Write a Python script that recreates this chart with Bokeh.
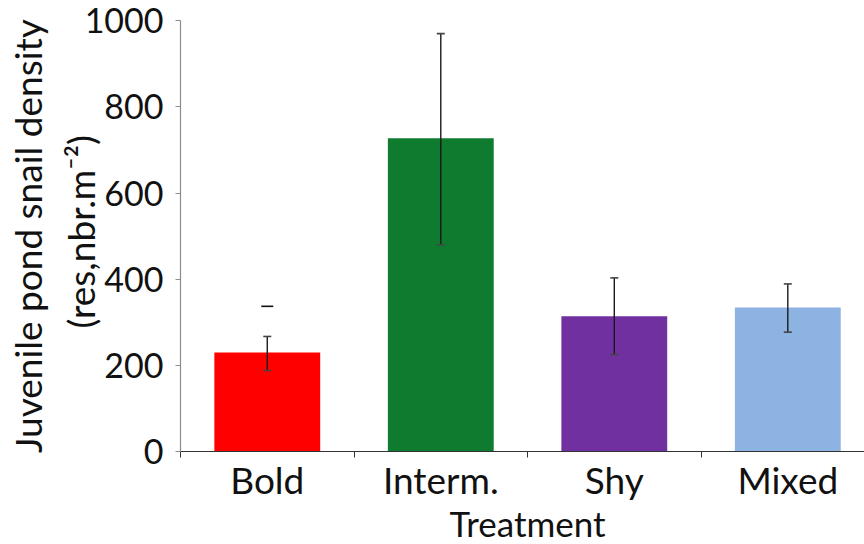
import math
from bokeh.plotting import figure
from bokeh.models import Range1d, FixedTicker, Whisker, TeeHead, ColumnDataSource, Label
from bokeh.embed import file_html
from bokeh.resources import INLINE

# Mean juvenile snail density per treatment, with error bar limits
treatments = ["Bold", "Interm.", "Shy", "Mixed"]
density = [230, 727, 314, 334]
err_lower = [188, 480, 225, 277]
err_upper = [267, 970, 403, 389]
bar_colors = ["#ff0000", "#0f7b2f", "#7030a0", "#8db3e2"]
stray_cap = [337]  # stray cap mark above the Bold bar
y_ticks = [0, 200, 400, 600, 800, 1000]

FONT = "Lato"
TEXT = "#111111"

centers = [i + 0.5 for i in range(len(treatments))]
src = ColumnDataSource(dict(x=centers, top=density, lower=err_lower,
                            upper=err_upper, color=bar_colors))

# The frame fills the canvas; both axes sit at the zero lines so that the
# tick labels and axis titles have room inside the plotting area.
p = figure(width=864, height=544, x_range=Range1d(-1.0375, 3.942), y_range=Range1d(-216, 1047),
           output_backend="svg", toolbar_location=None,
           min_border_left=0, min_border_right=0, min_border_top=0, min_border_bottom=0)
p.outline_line_color = None
p.xgrid.grid_line_color = None
p.ygrid.grid_line_color = None
p.background_fill_color = "white"
p.border_fill_color = "white"

p.vbar(x="x", top="top", width=0.61, fill_color="color", line_color=None, source=src)

p.add_layout(Whisker(source=src, base="x", upper="upper", lower="lower", level="overlay",
                     line_color="#1a1a1a", line_width=1.4,
                     upper_head=TeeHead(size=8, line_color="#444444", line_width=1.6),
                     lower_head=TeeHead(size=8, line_color="#444444", line_width=1.6)))

p.scatter(x=[centers[0]] * len(stray_cap), y=stray_cap, marker="dash", size=12,
          line_color="#111111", line_width=1.6)

# x axis: category names between boundary ticks
xa = p.xaxis[0]
xa.fixed_location = 0
xa.bounds = (0, len(treatments))
xa.ticker = FixedTicker(ticks=centers, minor_ticks=list(range(len(treatments) + 1)))
xa.major_label_overrides = {c: t for c, t in zip(centers, treatments)}
xa.major_tick_line_color = None
xa.major_tick_out = 0
xa.minor_tick_in = 0
xa.minor_tick_out = 6
xa.minor_tick_line_color = "#333333"
xa.axis_line_color = "#333333"
xa.axis_line_width = 1.2
xa.major_label_text_font = FONT
xa.major_label_text_font_size = "37px"
xa.major_label_text_color = TEXT
xa.major_label_standoff = 0

ya = p.yaxis[0]
ya.fixed_location = 0
ya.bounds = (0, 1000)
ya.ticker = FixedTicker(ticks=y_ticks)
ya.minor_tick_line_color = None
ya.major_tick_in = 0
ya.major_tick_out = 5
ya.major_tick_line_color = "#8c8c8c"
ya.axis_line_color = "#8c8c8c"
ya.axis_line_width = 1.2
ya.major_label_text_font = FONT
ya.major_label_text_font_size = "34px"
ya.major_label_text_color = TEXT
ya.major_label_standoff = 12

# axis titles
p.add_layout(Label(x=len(treatments) / 2, y=-167, text="Treatment",
                   text_font=FONT, text_font_size="35px", text_color=TEXT,
                   text_align="center", text_baseline="middle"))
p.add_layout(Label(x=-0.88, y=500, text="Juvenile pond snail density", angle=math.pi / 2,
                   text_font=FONT, text_font_size="37px", text_color=TEXT,
                   text_align="center", text_baseline="middle"))
p.add_layout(Label(x=-0.575, y=510, text="(res,nbr.m\u207b\u00b2)", angle=math.pi / 2,
                   text_font=FONT, text_font_size="37px", text_color=TEXT,
                   text_align="center", text_baseline="middle"))

open("out.html", "w").write(file_html(p, INLINE))
